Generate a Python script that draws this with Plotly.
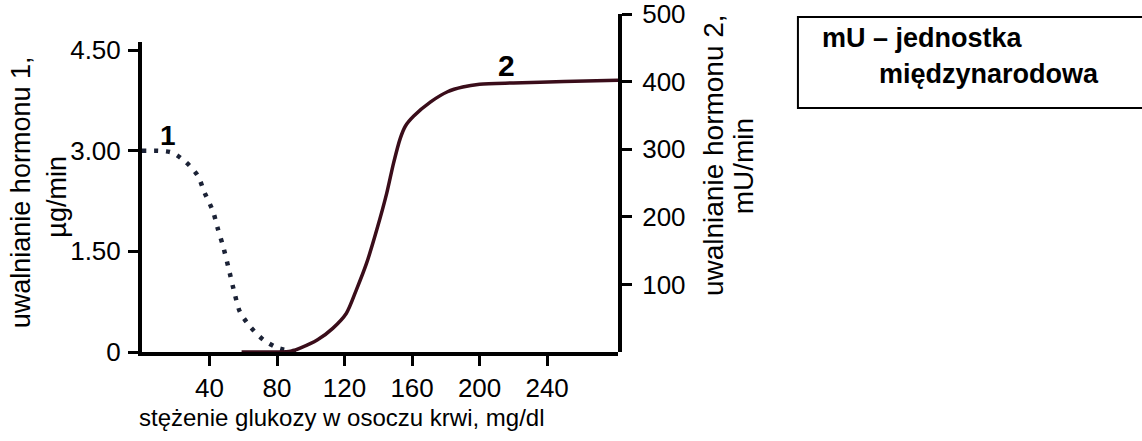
import plotly.graph_objects as go

# glucose concentration (mg/dl) vs hormone 1 release (µg/min) - dotted curve
glucose_1 = [0, 3, 10, 18, 26, 33, 37, 42, 45, 48, 51, 55, 58, 64, 72, 81, 91, 96]
hormone_1 = [3.0, 3.0, 3.0, 2.97, 2.83, 2.63, 2.38, 2.10, 1.83, 1.58, 1.28, 0.86, 0.60, 0.38, 0.18, 0.055, 0.01, 0.0]

# glucose concentration (mg/dl) vs hormone 2 release (mU/min) - solid curve
glucose_2 = [59, 80, 88, 94, 104, 113, 121, 127, 133, 139, 145, 149, 153, 156, 161, 171, 181, 190, 200, 220, 250, 282]
hormone_2 = [0, 0, 1, 6, 18, 35, 57, 92, 131, 180, 235, 279, 316, 334, 349, 370, 385, 392, 396, 398, 400, 402]

x_ticks = [40, 80, 120, 160, 200, 240]
y1_ticks = [0, 1.5, 3.0, 4.5]
y1_labels = ["0", "1.50", "3.00", "4.50"]
y2_ticks = [100, 200, 300, 400, 500]

FONT = "Liberation Sans, Arial, sans-serif"

fig = go.Figure()

fig.add_trace(go.Scatter(x=glucose_1, y=hormone_1, mode="lines", yaxis="y",
                         line=dict(color="#1b2236", width=4.5, dash="4px,8px",
                                   shape="spline", smoothing=0.8)))
fig.add_trace(go.Scatter(x=glucose_2, y=hormone_2, mode="lines", yaxis="y2",
                         line=dict(color="#3a0d1a", width=3.5, shape="spline", smoothing=0.8)))

axis_common = dict(showgrid=False, zeroline=False, showline=True, linecolor="black",
                   linewidth=4, ticks="outside", ticklen=10, tickwidth=3, tickcolor="black",
                   automargin=False, ticklabeloverflow="allow",
                   tickfont=dict(family=FONT, size=26, color="black"))

fig.update_layout(
    width=1142, height=441,
    margin=dict(l=142, r=524, t=14, b=89),
    paper_bgcolor="white", plot_bgcolor="rgba(0,0,0,0)",
    showlegend=False,
    font=dict(family=FONT, color="black"),
    xaxis=dict(range=[0, 282], tickvals=x_ticks, anchor="y", **axis_common),
    yaxis=dict(range=[0, 4.62], domain=[0, 0.917], tickvals=y1_ticks, ticktext=y1_labels,
               anchor="x", ticklabelstandoff=2, **axis_common),
    yaxis2=dict(range=[0, 500], domain=[0, 1], tickvals=y2_ticks, side="right",
                anchor="x", ticklabelstandoff=5, **axis_common),
)

annotations = [
    dict(text="stężenie glukozy w osoczu krwi, mg/dl", xref="paper", yref="paper",
         x=0.421, y=-0.195, font=dict(size=24)),
    dict(text="uwalnianie hormonu 1,", xref="paper", yref="paper",
         x=-0.254, y=0.473, textangle=-90, font=dict(size=27)),
    dict(text="µg/min", xref="paper", yref="paper",
         x=-0.179, y=0.459, textangle=-90, font=dict(size=27)),
    dict(text="uwalnianie hormonu 2,", xref="paper", yref="paper",
         x=1.202, y=0.583, textangle=-90, font=dict(size=28)),
    dict(text="mU/min", xref="paper", yref="paper",
         x=1.263, y=0.550, textangle=-90, font=dict(size=28)),
    dict(text="<b>1</b>", xref="x", yref="y", x=15.4, y=3.22, font=dict(size=28)),
    dict(text="<b>2</b>", xref="x", yref="y2", x=216, y=424, font=dict(size=30)),
    dict(text="<b>mU – jednostka</b>", xref="paper", yref="paper",
         x=1.424, y=0.929, xanchor="left", font=dict(size=27)),
    dict(text="<b>międzynarodowa</b>", xref="paper", yref="paper",
         x=1.544, y=0.822, xanchor="left", font=dict(size=27)),
]
for a in annotations:
    a.setdefault("showarrow", False)
    a.setdefault("xanchor", "center")
    a.setdefault("yanchor", "middle")
    fig.add_annotation(**a)

# note box, open on the right where it runs past the edge of the picture
fig.add_shape(type="path", xref="paper", yref="paper",
              path="M 2.2,0.991 L 1.378,0.991 L 1.378,0.722 L 2.2,0.722",
              line=dict(color="black", width=2))

# drop the default page margin so the figure sits at the window's corner
fig.write_html("out.html", config={"displayModeBar": False},
               post_script="document.body.style.margin = '0';")
